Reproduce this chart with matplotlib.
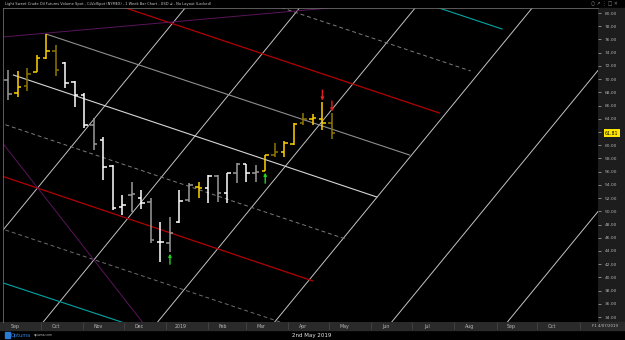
import matplotlib
matplotlib.use("Agg")
import matplotlib.pyplot as plt
import matplotlib.dates as mdates
import matplotlib.transforms as mtransforms
from matplotlib.patches import Rectangle
from matplotlib.ticker import FormatStrFormatter
import numpy as np
import pandas as pd

# ---------------- data ----------------
weeks = ["2018-09-07", "2018-09-14", "2018-09-21", "2018-09-28", "2018-10-05", "2018-10-12",
         "2018-10-19", "2018-10-26", "2018-11-02", "2018-11-09", "2018-11-16", "2018-11-23",
         "2018-11-30", "2018-12-07", "2018-12-14", "2018-12-21", "2018-12-28", "2019-01-04",
         "2019-01-11", "2019-01-18", "2019-01-25", "2019-02-01", "2019-02-08", "2019-02-15",
         "2019-02-22", "2019-03-01", "2019-03-08", "2019-03-15", "2019-03-22", "2019-03-29",
         "2019-04-05", "2019-04-12", "2019-04-19", "2019-04-26", "2019-05-03"]
opens = [69.86, 67.90, 68.96, 71.07, 73.19, 74.25, 72.44, 69.56, 67.59, 63.06, 60.79, 56.85,
         50.65, 52.47, 52.01, 51.41, 45.36, 45.20, 48.38, 51.71, 53.68, 53.52, 55.34, 52.77,
         55.79, 57.16, 55.79, 56.10, 58.52, 58.97, 60.18, 63.36, 63.96, 63.96, 63.36]
highs = [71.38, 71.23, 71.68, 73.65, 76.82, 75.16, 72.59, 69.71, 67.90, 64.11, 61.24, 57.00,
         52.47, 54.43, 53.22, 52.01, 48.38, 49.14, 53.22, 54.28, 54.43, 55.49, 55.49, 55.79,
         57.31, 57.16, 57.00, 58.52, 60.33, 60.64, 63.36, 64.87, 64.72, 66.54, 64.87]
lows = [66.84, 67.29, 68.20, 71.07, 73.04, 70.47, 68.65, 65.78, 62.60, 59.27, 54.74, 50.20,
        49.44, 49.89, 50.35, 45.20, 42.33, 43.84, 48.23, 51.41, 52.01, 51.26, 51.41, 51.26,
        54.28, 54.43, 54.43, 56.10, 58.21, 58.21, 60.03, 63.06, 63.06, 62.30, 60.94]
closes = [67.75, 68.80, 70.77, 73.19, 74.25, 71.38, 69.41, 67.59, 63.06, 60.18, 56.70, 50.50,
          50.95, 52.62, 51.26, 45.66, 45.36, 46.72, 51.56, 53.98, 53.52, 55.34, 52.77, 55.79,
          57.16, 55.79, 55.95, 58.52, 58.97, 60.33, 63.21, 63.96, 64.11, 63.36, 61.81]
# bar colour class: Y bright yellow, D dark yellow, W white, G grey
bar_class = ["G", "Y", "D", "Y", "Y", "D", "W", "W", "W", "G", "W", "W", "W", "G", "W", "G",
             "W", "G", "W", "G", "Y", "W", "G", "W", "G", "W", "G", "Y", "D", "Y", "Y", "D",
             "Y", "Y", "D"]

buy_signal_weeks = ["2019-01-04", "2019-03-15"]
sell_signal_weeks = ["2019-04-26", "2019-05-03"]

# rising fan lines (start date, start price, end date, end price)
rise_start_dates = ["2018-06-27", "2018-09-20", "2018-12-13", "2019-03-09", "2019-06-03", "2019-08-27"]
rise_end_dates = ["2019-02-01", "2019-04-26", "2019-07-20", "2019-10-14", "2020-01-08", "2020-04-02"]
rise_start_prices = [30.0, 30.0, 30.0, 30.0, 30.0, 30.0]
rise_end_prices = [85.0, 85.0, 85.0, 85.0, 85.0, 85.0]

# falling channel lines
chan_names = ["cyan_top", "dash_upper", "red_upper", "grey_upper", "median",
              "dash_lower", "red_lower", "dash_lowest", "cyan_bottom"]
chan_start_dates = ["2019-05-20", "2019-01-25", "2018-10-02", "2018-10-05", "2018-09-11",
                    "2018-08-17", "2018-07-23", "2018-06-27", "2018-06-02"]
chan_start_prices = [85.0, 85.0, 85.0, 76.82, 70.62, 64.42, 58.21, 52.01, 45.51]
chan_end_dates = ["2019-09-05", "2019-08-13", "2019-07-21", "2019-06-29", "2019-06-05",
                  "2019-05-13", "2019-04-19", "2019-03-28", "2019-03-05"]
chan_end_prices = [77.58, 71.23, 64.87, 58.52, 52.16, 45.81, 39.46, 33.10, 26.75]

# purple lines
purple_start_dates = ["2018-08-27", "2018-09-03"]
purple_start_prices = [62.2, 76.37]
purple_end_dates = ["2018-12-27", "2019-05-01"]
purple_end_prices = [30.0, 80.76]

month_starts = ["2018-09-01", "2018-10-01", "2018-11-01", "2018-12-01", "2019-01-01", "2019-02-01",
                "2019-03-01", "2019-04-01", "2019-05-01", "2019-06-01", "2019-07-01", "2019-08-01",
                "2019-09-01", "2019-10-01", "2019-11-01"]
month_labels = ["Sep", "Oct", "Nov", "Dec", "2019", "Feb", "Mar", "Apr", "May", "Jun", "Jul",
                "Aug", "Sep", "Oct"]
price_ticks = list(range(34, 81, 2))

title = ("Light Sweet Crude Oil Futures Volume Spot - CLVolSpot (NYMEX) - 1 Week Bar Chart - "
         "USD \u22bf - No Layout (Locked)")

# ---------------- styles ----------------
cls_colors = {"Y": "#ffd200", "D": "#8f7700", "W": "#ffffff", "G": "#9a9a9a"}
chan_styles = {
    "cyan_top": dict(color="#00a5a5", lw=0.8, ls="-"),
    "dash_upper": dict(color="#7c7c7c", lw=0.7, ls=(0, (4, 3))),
    "red_upper": dict(color="#b30000", lw=0.9, ls="-"),
    "grey_upper": dict(color="#8e8e8e", lw=0.8, ls="-"),
    "median": dict(color="#d6d6d6", lw=0.8, ls="-"),
    "dash_lower": dict(color="#7c7c7c", lw=0.7, ls=(0, (4, 3))),
    "red_lower": dict(color="#b30000", lw=0.9, ls="-"),
    "dash_lowest": dict(color="#6e6e6e", lw=0.7, ls=(0, (4, 3))),
    "cyan_bottom": dict(color="#00a5a5", lw=0.8, ls="-"),
}

W, H = 625, 340
fig = plt.figure(figsize=(W / 100, H / 100), dpi=100, facecolor="black")

def fr(x0, y0, x1, y1):
    return [x0 / W, 1 - y1 / H, (x1 - x0) / W, (y1 - y0) / H]

# background panels (drawn beneath everything)
fig.patches.append(Rectangle((598 / W, 1 - 322 / H), 27 / W, 314 / H,
                             transform=fig.transFigure, color="#1d1d1d", zorder=-5))
fig.patches.append(Rectangle((0, 1 - 330 / H), 1, 8 / H,
                             transform=fig.transFigure, color="#2a2a2a", zorder=-5))

ax = fig.add_axes(fr(3, 8, 598, 322))
ax.set_zorder(2)
ax.set_facecolor("black")

xlo = mdates.date2num(pd.Timestamp("2018-09-03 08:00"))
xhi = mdates.date2num(pd.Timestamp("2019-11-14 12:00"))
ax.set_xlim(xlo, xhi)
ax.set_ylim(33.25, 80.76)

def dn(lst):
    return mdates.date2num(pd.to_datetime(lst))

# rising lines
for s, e, ps, pe in zip(dn(rise_start_dates), dn(rise_end_dates), rise_start_prices, rise_end_prices):
    ax.plot([s, e], [ps, pe], color="#c4c4c4", lw=0.7, zorder=1)

# channel lines
for name, s, ps, e, pe in zip(chan_names, dn(chan_start_dates), chan_start_prices,
                              dn(chan_end_dates), chan_end_prices):
    st = chan_styles[name]
    ax.plot([s, e], [ps, pe], color=st["color"], lw=st["lw"], linestyle=st["ls"], zorder=1)

# purple lines
for s, ps, e, pe in zip(dn(purple_start_dates), purple_start_prices, dn(purple_end_dates), purple_end_prices):
    ax.plot([s, e], [ps, pe], color="#5a155a", lw=0.7, zorder=1)

# OHLC bars
x = dn(weeks)
half = 2.6
for xi, o, h, l, c, k in zip(x, opens, highs, lows, closes, bar_class):
    col = cls_colors[k]
    ax.vlines(xi, l, h, color=col, lw=1.1, zorder=3)
    ax.hlines(o, xi - half, xi, color=col, lw=1.1, zorder=3)
    ax.hlines(c, xi, xi + half, color=col, lw=1.1, zorder=3)

# signal arrows
low_map = dict(zip(weeks, lows))
high_map = dict(zip(weeks, highs))
for wk in buy_signal_weeks:
    xi = mdates.date2num(pd.Timestamp(wk))
    lo = low_map[wk]
    ax.annotate("", xy=(xi, lo - 0.25), xytext=(xi, lo - 1.85),
                arrowprops=dict(arrowstyle="-|>", color="#22d022", lw=1.0, mutation_scale=4,
                                shrinkA=0, shrinkB=0), zorder=4)
for wk in sell_signal_weeks:
    xi = mdates.date2num(pd.Timestamp(wk))
    hi = high_map[wk]
    ax.annotate("", xy=(xi, hi + 0.2), xytext=(xi, hi + 1.8),
                arrowprops=dict(arrowstyle="-|>", color="#e02020", lw=1.0, mutation_scale=4,
                                shrinkA=0, shrinkB=0), zorder=4)

# axes styling
for sp in ["right", "bottom"]:
    ax.spines[sp].set_visible(False)
for sp in ["left", "top"]:
    ax.spines[sp].set_color("#6a6a6a")
    ax.spines[sp].set_linewidth(0.6)
ax.tick_params(axis="x", length=0, labelbottom=False)
ax.yaxis.tick_right()
ax.set_yticks(price_ticks)
ax.yaxis.set_major_formatter(FormatStrFormatter("%.2f"))
ax.tick_params(axis="y", colors="#b0b0b0", labelsize=3.2, length=2, width=0.5, pad=3.0,
               direction="out")

# last price label
tr = mtransforms.blended_transform_factory(ax.transAxes, ax.transData)
ax.text(1.0 + 7 / 595, closes[-1], "%.2f" % closes[-1], transform=tr, fontsize=3.3,
        color="black", ha="left", va="center", zorder=6,
        bbox=dict(boxstyle="square,pad=0.3", fc="#ffe400", ec="none"))

# bottom date strip
axs = fig.add_axes(fr(3, 322, 598, 330))
axs.set_zorder(1)
axs.set_facecolor("#2a2a2a")
axs.set_xlim(xlo, xhi)
axs.set_ylim(0, 1)
for sp in axs.spines.values():
    sp.set_visible(False)
axs.set_xticks([])
axs.set_yticks([])
ms = dn(month_starts)
axs.vlines(ms, 0, 1, color="#454545", lw=0.6)
for m, lab in zip(ms[:-1], month_labels):
    axs.text(m + 11, 0.45, lab, fontsize=3.4, color="#b8b8b8", ha="center", va="center")

# texts
fig.text(5 / W, 1 - 4 / H, title, fontsize=2.6, color="#c8c8c8", ha="left", va="center")
fig.text(591 / W, 1 - 4 / H, "\u25cb \u2197 \u22ee \u25a1 \u2715", fontsize=3.3, color="#8a8a8a",
         ha="left", va="center")
fig.text(312 / W, 1 - 335 / H, "2nd May 2019", fontsize=4.0, color="#e6e6e6", ha="center", va="center")
fig.text(592 / W, 1 - 326 / H, "F1 4/07/2019", fontsize=2.8, color="#c0c0c0", ha="left", va="center")
fig.patches.append(Rectangle((5 / W, 1 - 338 / H), 5 / W, 6 / H, transform=fig.transFigure,
                             color="#2a7bd6", zorder=2))
fig.text(11 / W, 1 - 335 / H, "Optuma", fontsize=3.6, color="#2f80da", ha="left", va="center")
fig.text(34 / W, 1 - 335 / H, "optuma.com", fontsize=2.2, color="#bbbbbb", ha="left", va="center")

fig.savefig("out.png", dpi=100, facecolor="black")
